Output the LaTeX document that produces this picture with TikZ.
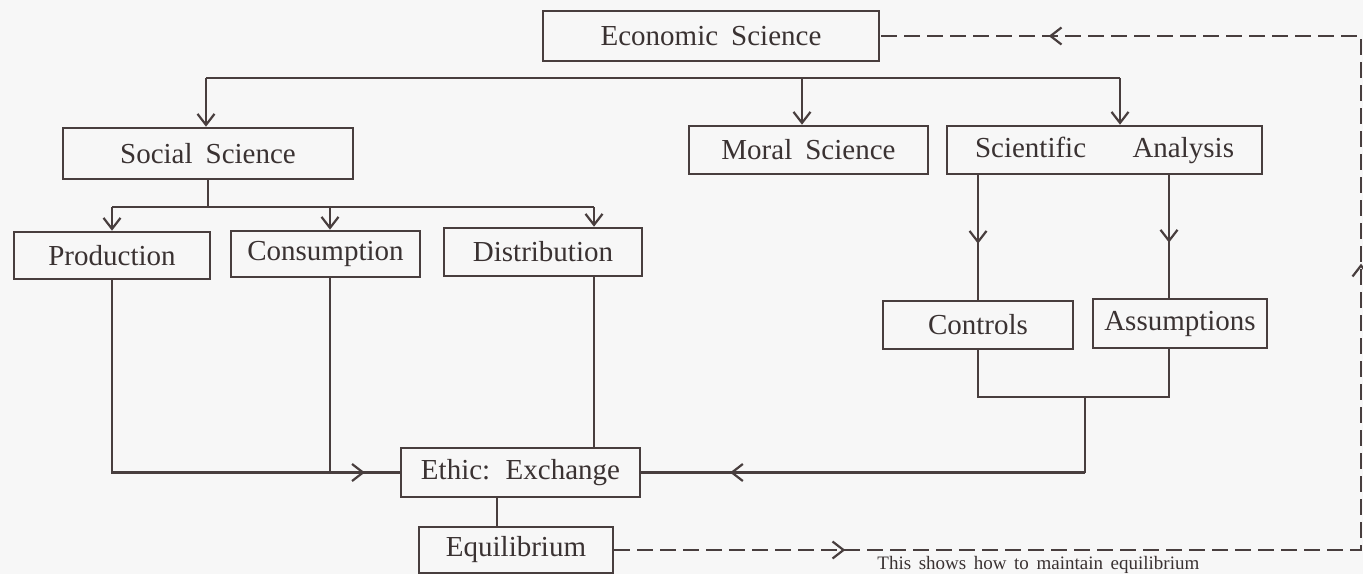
\documentclass[tikz,border=0pt]{standalone}
\usepackage{fontspec}
\setmainfont{Liberation Serif}
\usepackage{tikz}
\usetikzlibrary{arrows.meta,decorations.markings}
\definecolor{Ink}{RGB}{72,62,62}
\definecolor{Paper}{RGB}{247,247,247}
\tikzstyle{box} = [rectangle, draw=Ink, line width=1.3pt, inner sep=0pt,
text=Ink!80!black, font={\fontsize{14.5}{17}\selectfont\spaceskip=0.45em\relax}]
\tikzstyle{link} = [draw=Ink, line width=1.1pt]
\tikzstyle{drop} = [link, -{Straight Barb[length=5.5pt,width=8.5pt]}]
\tikzstyle{dash link} = [link, dash pattern=on 8pt off 3.5pt]
\tikzset{midarrow/.style={postaction={decorate}, decoration={markings,
mark=at position #1 with {\arrow{Straight Barb[length=5.5pt,width=8.5pt]}}}}}

\begin{document}
\begin{tikzpicture}[x=0.5pt, y=-0.5pt]
	\fill[Paper] (0,0) rectangle (1363,574);
	\useasboundingbox (0,0) rectangle (1363,574);

	\node[box, minimum width=168pt, minimum height=25pt] (econ) at (711,36) {Economic Science};
	\node[box, minimum width=145pt, minimum height=25.5pt] (social) at (208,153.5) {Social Science};
	\node[box, minimum width=119.5pt, minimum height=24pt] (moral) at (808.5,150) {Moral Science};
	\node[box, minimum width=157.5pt, minimum height=24pt] (sciana) at (1104.5,150) {Scientific\hspace{1.6em}Analysis};
	\node[box, minimum width=98pt, minimum height=23.5pt] (prod) at (112,255.5) {Production};
	\node[box, minimum width=94.5pt, minimum height=23pt] (cons) at (325.5,254) {Consumption};
	\node[box, minimum width=99pt, minimum height=24pt] (dist) at (543,252) {Distribution};
	\node[box, minimum width=95pt, minimum height=24pt] (ctrl) at (978,325) {Controls};
	\node[box, minimum width=87pt, minimum height=24.5pt] (assum) at (1180,323.5) {Assumptions};
	\node[box, minimum width=119.5pt, minimum height=24.5pt] (ethic) at (520.5,472.5) {Ethic: Exchange};
	\node[box, minimum width=97pt, minimum height=23pt] (equil) at (516,550) {Equilibrium};
	\node[anchor=base west, inner sep=0pt, text=Ink!80!black,
		font={\fontsize{9.5}{11}\selectfont\spaceskip=0.4em\relax}] (note) at (877,569) {This shows how to maintain equilibrium};

	% top bus
	\coordinate (busl) at (206,78);
	\coordinate (busm) at (802,78);
	\coordinate (busr) at (1120,78);
	\draw[link] (busl) -- (busr);
	\draw[drop] (busl) -- (busl |- social.north);
	\draw[drop] (busm) -- (busm |- moral.north);
	\draw[drop] (busr) -- (busr |- sciana.north);

	% social science branch
	\coordinate (subl) at (112,207);
	\coordinate (subm) at (330,207);
	\coordinate (subr) at (594,207);
	\draw[link] (social.south) -- (social.south |- subl);
	\draw[link] (subl) -- (subr);
	\draw[drop] (subl) -- (prod.north);
	\draw[drop] (subm) -- (subm |- cons.north);
	\draw[drop] (subr) -- (subr |- dist.north);

	\draw[link] (prod.south) |- (subm |- ethic.west);
	\draw[link] (subm |- cons.south) -- (subm |- ethic.west);
	\draw[link, midarrow=0.5] (subm |- ethic.west) -- (ethic.west);
	\draw[link] (subr |- dist.south) -- (subr |- ethic.north);

	% scientific analysis branch
	\coordinate (cjoin) at (978,397);
	\coordinate (ajoin) at (1169,397);
	\coordinate (sjoin) at (1085,397);
	\draw[link, midarrow=0.55] (ctrl.north |- sciana.south) -- (ctrl.north);
	\draw[link, midarrow=0.55] (ajoin |- sciana.south) -- (ajoin |- assum.north);
	\draw[link] (ctrl.south) -- (cjoin) -- (ajoin) -- (ajoin |- assum.south);
	\draw[link] (sjoin) -- (sjoin |- ethic.east);
	\draw[link, midarrow=0.8] (sjoin |- ethic.east) -- (ethic.east);

	% equilibrium
	\draw[link] ([xshift=-9.5pt]equil.north) -- ([xshift=-9.5pt]equil.north |- ethic.south);

	% feedback loop
	\coordinate (loopb) at (1361,550);
	\coordinate (loopt) at (1361,36);
	\draw[dash link, postaction={decorate}, decoration={markings,
		mark=at position 115.5pt with {\arrow{Straight Barb[length=5.5pt,width=8.5pt]}},
		mark=at position 516.5pt with {\arrow{Straight Barb[length=5.5pt,width=8.5pt]}},
		mark=at position 786.5pt with {\arrow{Straight Barb[length=5.5pt,width=8.5pt]}}}]
		(equil.east) -- (loopb) -- (loopt) -- (econ.east);
\end{tikzpicture}
\end{document}
